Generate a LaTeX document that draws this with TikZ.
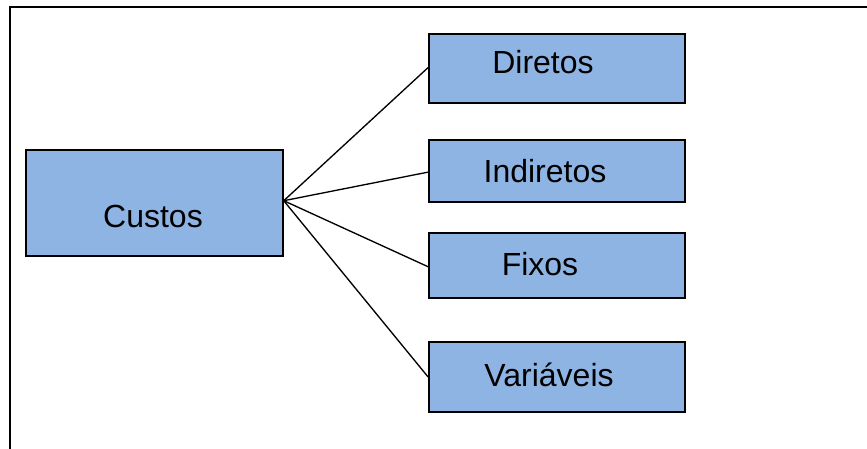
\documentclass[tikz,border=0pt]{standalone}
\usepackage{fontspec}
\setmainfont{Liberation Sans}
\usetikzlibrary{calc}
\begin{document}
\begin{tikzpicture}[x=0.75pt,y=-0.75pt,
  box/.style={draw=black,line width=1.3pt,fill=boxblue,rectangle,inner sep=0pt,anchor=north west},
  lbl/.style={font=\fontsize{24}{28}\selectfont,inner sep=0pt,anchor=base},
  link/.style={line width=1pt,black}]
\definecolor{boxblue}{HTML}{8EB4E3}
\useasboundingbox (0,0) rectangle (867,449);
% open outer frame (top and left edges only)
\draw[line width=1.5pt] (9.5,449) -- (9.5,7.5) -- (867,7.5);
% boxes
\node[box,minimum width=257*0.75pt,minimum height=106*0.75pt] (custos) at (25,149) {};
\node[box,minimum width=256*0.75pt,minimum height=69*0.75pt] (diretos) at (428,33) {};
\node[box,minimum width=256*0.75pt,minimum height=62*0.75pt] (indiretos) at (428,139) {};
\node[box,minimum width=256*0.75pt,minimum height=65*0.75pt] (fixos) at (428,232) {};
\node[box,minimum width=256*0.75pt,minimum height=70*0.75pt] (variaveis) at (428,341) {};
% labels, placed by baseline
\node[lbl] (tcustos) at (153,227) {Custos};
\node[lbl] (tdiretos) at (543,74) {Diretos};
\node[lbl] (tindiretos) at (545,182) {Indiretos};
\node[lbl] (tfixos) at (540,275) {Fixos};
\node[lbl] (tvariaveis) at (549,386) {Variáveis};
% fan of connectors
\coordinate (hub) at ($(custos.north east)!0.48!(custos.south east)$);
\draw[link] (hub) -- ($(diretos.north west)!0.49!(diretos.south west)$);
\draw[link] (hub) -- ($(indiretos.north west)!0.52!(indiretos.south west)$);
\draw[link] (hub) -- ($(fixos.north west)!0.52!(fixos.south west)$);
\draw[link] (hub) -- ($(variaveis.north west)!0.5!(variaveis.south west)$);
\end{tikzpicture}
\end{document}
